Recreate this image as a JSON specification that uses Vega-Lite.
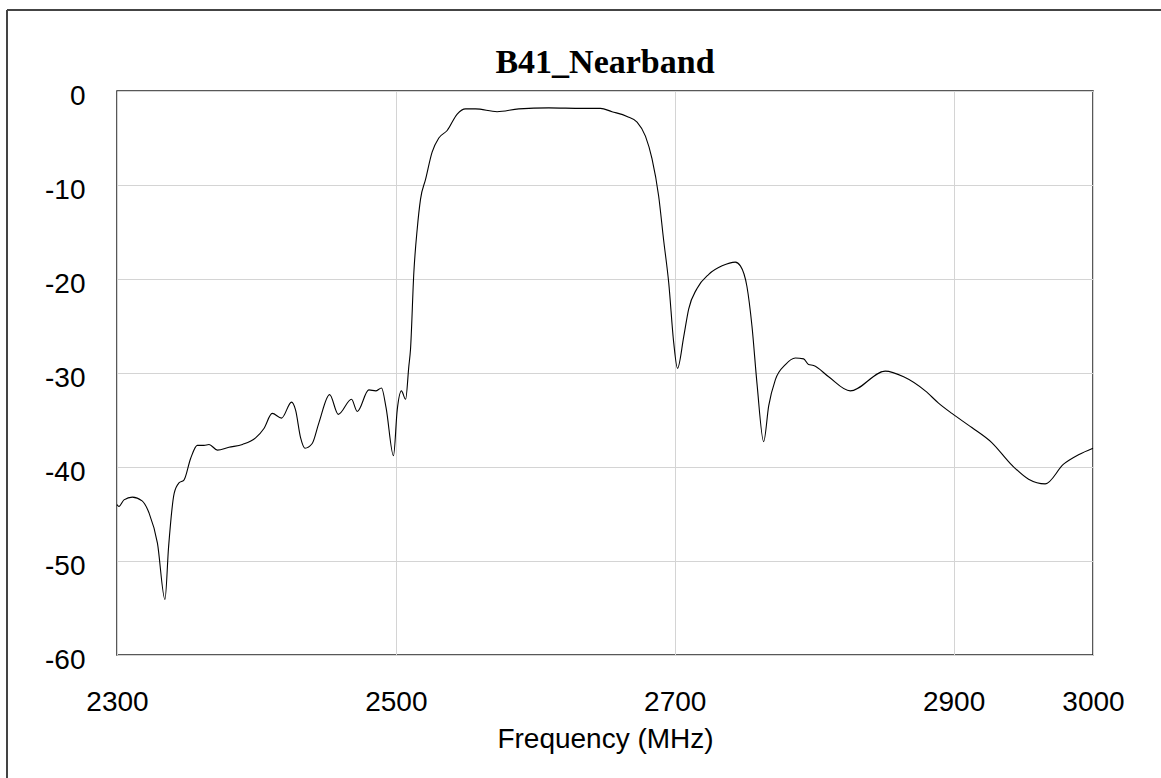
{
  "$schema": "https://vega.github.io/schema/vega-lite/v6.json",
  "autosize": "none",
  "padding": {"left": 117, "top": 91, "right": 68, "bottom": 123},
  "width": 976,
  "height": 564,
  "background": "white",
  "title": {
    "text": "B41_Nearband",
    "font": "Liberation Serif",
    "fontSize": 34,
    "fontWeight": "bold",
    "color": "black",
    "anchor": "middle",
    "frame": "group",
    "baseline": "alphabetic",
    "offset": -98
  },
  "config": {
    "view": {"stroke": "#222222", "strokeWidth": 1.5},
    "axis": {
      "labelFont": "Liberation Sans",
      "labelFontSize": 28,
      "labelColor": "black",
      "titleFont": "Liberation Sans",
      "titleFontSize": 28,
      "titleFontWeight": "normal",
      "titleColor": "black",
      "gridColor": "#d4d4d4",
      "gridWidth": 1,
      "domain": false,
      "ticks": false,
      "tickSize": 0
    }
  },
  "data": {
    "values": [
      {"f": 2300, "db": -44.0}, {"f": 2301.4, "db": -44.2}, {"f": 2305, "db": -43.5},
      {"f": 2311, "db": -43.2}, {"f": 2318, "db": -43.6}, {"f": 2323, "db": -44.9},
      {"f": 2329, "db": -48.1}, {"f": 2334.4, "db": -54.1}, {"f": 2337, "db": -48.5},
      {"f": 2341, "db": -42.8}, {"f": 2344.4, "db": -41.7}, {"f": 2348, "db": -41.4},
      {"f": 2352.8, "db": -39.1}, {"f": 2357.6, "db": -37.7}, {"f": 2362.4, "db": -37.7},
      {"f": 2366, "db": -37.6}, {"f": 2372, "db": -38.2}, {"f": 2380.3, "db": -37.9},
      {"f": 2390, "db": -37.6}, {"f": 2399.4, "db": -36.9}, {"f": 2405.4, "db": -35.9},
      {"f": 2411.3, "db": -34.3}, {"f": 2418, "db": -34.8}, {"f": 2425.2, "db": -33.1},
      {"f": 2428, "db": -33.9}, {"f": 2431.7, "db": -36.9}, {"f": 2434.8, "db": -38.0},
      {"f": 2440, "db": -37.5}, {"f": 2444.8, "db": -35.3}, {"f": 2452.5, "db": -32.3},
      {"f": 2458.7, "db": -34.4}, {"f": 2468.2, "db": -32.8}, {"f": 2472.3, "db": -34.1},
      {"f": 2480.6, "db": -31.8}, {"f": 2485.5, "db": -31.9}, {"f": 2489.7, "db": -31.6},
      {"f": 2493, "db": -33.7}, {"f": 2498.3, "db": -38.8}, {"f": 2501, "db": -33.9},
      {"f": 2504, "db": -31.9}, {"f": 2507, "db": -32.8}, {"f": 2509.3, "db": -29.3},
      {"f": 2510.5, "db": -27.5}, {"f": 2512.9, "db": -19.3}, {"f": 2515.3, "db": -14.7},
      {"f": 2517.7, "db": -11.5}, {"f": 2521.3, "db": -9.4}, {"f": 2526, "db": -6.5},
      {"f": 2530.8, "db": -5.0}, {"f": 2536.8, "db": -4.2}, {"f": 2544, "db": -2.45},
      {"f": 2550, "db": -1.9}, {"f": 2557.1, "db": -1.9}, {"f": 2572.6, "db": -2.2},
      {"f": 2588.2, "db": -1.9}, {"f": 2609.7, "db": -1.8}, {"f": 2633.6, "db": -1.85},
      {"f": 2646.7, "db": -1.85}, {"f": 2655, "db": -2.2}, {"f": 2665.8, "db": -2.7},
      {"f": 2673, "db": -3.3}, {"f": 2679, "db": -4.8}, {"f": 2683.7, "db": -7.2},
      {"f": 2688.5, "db": -11.2}, {"f": 2692, "db": -15.8}, {"f": 2695.7, "db": -20.4},
      {"f": 2699.3, "db": -26.8}, {"f": 2702, "db": -29.5}, {"f": 2706.5, "db": -26.1},
      {"f": 2710, "db": -23.2}, {"f": 2716, "db": -21.0}, {"f": 2724.4, "db": -19.5},
      {"f": 2734, "db": -18.6}, {"f": 2743.5, "db": -18.2}, {"f": 2747.1, "db": -18.6},
      {"f": 2751.8, "db": -20.8}, {"f": 2755.4, "db": -25.0}, {"f": 2759, "db": -31.1},
      {"f": 2763.8, "db": -37.3}, {"f": 2767.4, "db": -33.5}, {"f": 2772.2, "db": -30.7},
      {"f": 2779.4, "db": -29.1}, {"f": 2786.5, "db": -28.4}, {"f": 2792.5, "db": -28.5},
      {"f": 2796, "db": -29.1}, {"f": 2799.6, "db": -29.2}, {"f": 2810.4, "db": -30.4},
      {"f": 2825.9, "db": -31.9}, {"f": 2851, "db": -29.8}, {"f": 2864.2, "db": -30.4},
      {"f": 2879.7, "db": -31.9}, {"f": 2889.2, "db": -33.2}, {"f": 2898.8, "db": -34.3},
      {"f": 2913.1, "db": -35.8}, {"f": 2927.4, "db": -37.4}, {"f": 2941.8, "db": -39.8},
      {"f": 2953.8, "db": -41.3}, {"f": 2965.7, "db": -41.8}, {"f": 2978.9, "db": -39.7},
      {"f": 2989.6, "db": -38.7}, {"f": 3000, "db": -38.0}
    ]
  },
  "layer": [
    {
      "mark": {"type": "line", "color": "black", "strokeWidth": 1.1, "interpolate": "monotone"},
      "encoding": {
        "x": {
          "field": "f", "type": "quantitative",
          "scale": {"domain": [2300, 3000], "nice": false, "zero": false},
          "axis": {
            "values": [2300, 2500, 2700, 2900, 3000],
            "grid": true,
            "labelExpr": "'' + datum.value",
            "labelBaseline": "alphabetic",
            "labelPadding": 55,
            "title": "Frequency (MHz)",
            "titleBaseline": "alphabetic",
            "titleY": 92,
            "labelFlush": false
          }
        },
        "y": {
          "field": "db", "type": "quantitative",
          "scale": {"domain": [-60, 0], "nice": false, "zero": false},
          "axis": {
            "values": [-60, -50, -40, -30, -20, -10, 0],
            "grid": true,
            "labelExpr": "'' + datum.value",
            "labelBaseline": "alphabetic",
            "labelOffset": 13,
            "labelPadding": 32,
            "title": null
          }
        }
      }
    },
    {
      "mark": {"type": "rule", "color": "#444444", "strokeWidth": 1.5, "clip": false},
      "encoding": {
        "x": {"datum": 2221.1, "type": "quantitative"},
        "y": {"datum": 8.62, "type": "quantitative"},
        "y2": {"datum": -80}
      }
    },
    {
      "mark": {"type": "rule", "color": "#444444", "strokeWidth": 1.5, "clip": false},
      "encoding": {
        "x": {"datum": 2221.1, "type": "quantitative"},
        "x2": {"datum": 3100},
        "y": {"datum": 8.62, "type": "quantitative"}
      }
    }
  ]
}
